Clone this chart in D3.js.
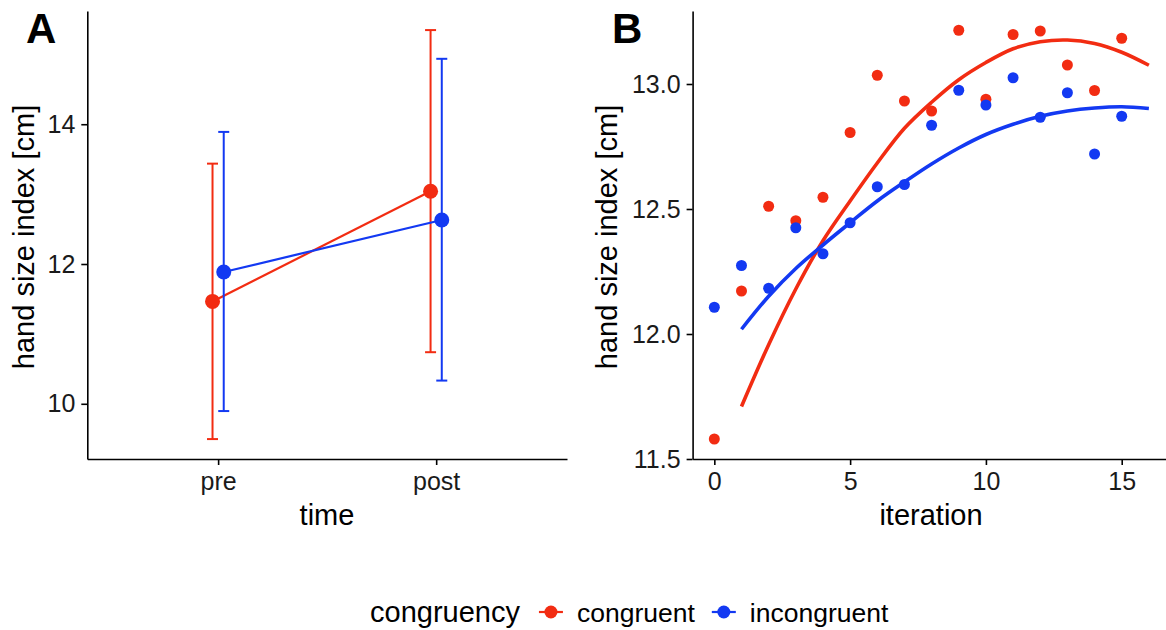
<!DOCTYPE html>
<html>
<head>
<meta charset="utf-8">
<script src="https://cdn.jsdelivr.net/npm/d3@7/dist/d3.min.js"></script>
<style>
  body { margin: 0; background: #fff; }
  svg text { font-family: "Liberation Sans", Arial, sans-serif; }
</style>
</head>
<body>
<div id="chart"></div>
<script>

// panel A: mean and error bar by time
var times = ["pre", "post"]
var groups = ["congruent", "incongruent"]
var meanCong = [11.465, 13.04]
var lowCong = [9.495, 10.738]
var highCong = [13.436, 15.347]
var meanIncong = [11.886, 12.629]
var lowIncong = [9.896, 10.332]
var highIncong = [13.89, 14.936]

// panel B: mean per iteration + fitted curve
var iterations = [0,1,2,3,4,5,6,7,8,9,10,11,12,13,14,15]
var pointsCong = [11.58,12.172,12.511,12.453,12.547,12.806,13.035,12.932,12.892,13.215,12.939,13.198,13.212,13.076,12.974,13.183]
var pointsIncong = [12.107,12.274,12.183,12.425,12.321,12.445,12.589,12.598,12.835,12.975,12.916,13.025,12.867,12.965,12.72,12.871]
var fitX = [1,2,3,4,5,6,7,8,9,10,11,12,13,14,15,16]
var fitCong = [11.71,11.957,12.18,12.373,12.532,12.684,12.823,12.927,13.017,13.086,13.141,13.169,13.176,13.162,13.127,13.075]
var fitIncong = [12.019,12.151,12.262,12.356,12.445,12.532,12.608,12.68,12.744,12.798,12.839,12.871,12.892,12.904,12.909,12.902]

var ticksA = [10, 12, 14]
var ticksBy = [11.5, 12.0, 12.5, 13.0]
var ticksBx = [0, 5, 10, 15]

var colors = ["#f22c12", "#1339f2"]

var svg = d3.select("#chart").append("svg")
  .attr("width", 1166)
  .attr("height", 630)

var axisColor = "#000"

function styleAxis(g){
  g.select(".domain").attr("stroke", axisColor).attr("stroke-width", 1.6)
  g.selectAll(".tick line").attr("stroke", axisColor).attr("stroke-width", 1.6)
  g.selectAll(".tick text").attr("fill", "#1a1a1a").style("font-size", "25px")
}

// ---------- panel A ----------
var xA = d3.scalePoint().domain(times).range([87.3, 567]).padding(0.6)
var yA = d3.scaleLinear().domain([9.21, 15.62]).range([459, 11])
var dodge = 0.0257 * xA.step()

var gA = svg.append("g")

gA.append("g")
  .attr("transform", "translate(0,459)")
  .call(d3.axisBottom(xA).tickSize(6).tickSizeOuter(0).tickPadding(7))
  .call(styleAxis)

gA.append("g")
  .attr("transform", "translate(87.3,0)")
  .call(d3.axisLeft(yA).tickValues(ticksA).tickFormat(d3.format("d")).tickSize(6).tickSizeOuter(0).tickPadding(6))
  .call(styleAxis)

var seriesA = [
  {mean: meanCong, low: lowCong, high: highCong, off: -dodge, color: colors[0]},
  {mean: meanIncong, low: lowIncong, high: highIncong, off: dodge, color: colors[1]}
]

seriesA.forEach(function(s){
  var g = gA.append("g")
  times.forEach(function(t, i){
    var cx = xA(t) + s.off
    g.append("line")
      .attr("x1", cx).attr("x2", cx)
      .attr("y1", yA(s.low[i])).attr("y2", yA(s.high[i]))
      .attr("stroke", s.color).attr("stroke-width", 2)
    ;[s.low[i], s.high[i]].forEach(function(v){
      g.append("line")
        .attr("x1", cx - 5.5).attr("x2", cx + 5.5)
        .attr("y1", yA(v)).attr("y2", yA(v))
        .attr("stroke", s.color).attr("stroke-width", 2)
    })
  })
  g.append("path")
    .datum(s.mean)
    .attr("fill", "none")
    .attr("stroke", s.color)
    .attr("stroke-width", 2.2)
    .attr("d", d3.line()
      .x(function(d, i){ return xA(times[i]) + s.off })
      .y(function(d){ return yA(d) }))
  g.selectAll("circle")
    .data(s.mean)
    .enter().append("circle")
    .attr("cx", function(d, i){ return xA(times[i]) + s.off })
    .attr("cy", function(d){ return yA(d) })
    .attr("r", 7.5)
    .attr("fill", s.color)
})

gA.append("text")
  .attr("x", 327).attr("y", 525)
  .attr("text-anchor", "middle")
  .style("font-size", "29px")
  .text("time")

gA.append("text")
  .attr("transform", "translate(34,237) rotate(-90)")
  .attr("text-anchor", "middle")
  .style("font-size", "29px")
  .text("hand size index [cm]")

gA.append("text")
  .attr("x", 26).attr("y", 43)
  .style("font-size", "42px").style("font-weight", "bold")
  .text("A")

// ---------- panel B ----------
var xB = d3.scaleLinear().domain([-0.8, 16.8]).range([692.6, 1170.6])
var yB = d3.scaleLinear().domain([11.5, 13.292]).range([459, 11])

var gB = svg.append("g")

gB.append("g")
  .attr("transform", "translate(0,459)")
  .call(d3.axisBottom(xB).tickValues(ticksBx).tickSize(6).tickSizeOuter(0).tickPadding(7))
  .call(styleAxis)

gB.append("g")
  .attr("transform", "translate(692.6,0)")
  .call(d3.axisLeft(yB).tickValues(ticksBy).tickFormat(d3.format(".1f")).tickSize(6).tickSizeOuter(0).tickPadding(6))
  .call(styleAxis)

var seriesB = [
  {pts: pointsCong, fit: fitCong, color: colors[0]},
  {pts: pointsIncong, fit: fitIncong, color: colors[1]}
]

seriesB.forEach(function(s){
  gB.append("g").selectAll("circle")
    .data(s.pts)
    .enter().append("circle")
    .attr("cx", function(d, i){ return xB(iterations[i]) })
    .attr("cy", function(d){ return yB(d) })
    .attr("r", 5.5)
    .attr("fill", s.color)
})

seriesB.forEach(function(s){
  gB.append("path")
    .datum(s.fit)
    .attr("fill", "none")
    .attr("stroke", s.color)
    .attr("stroke-width", 3.6)
    .attr("d", d3.line()
      .curve(d3.curveCatmullRom)
      .x(function(d, i){ return xB(fitX[i]) })
      .y(function(d){ return yB(d) }))
})

gB.append("text")
  .attr("x", 931).attr("y", 525)
  .attr("text-anchor", "middle")
  .style("font-size", "29px")
  .text("iteration")

gB.append("text")
  .attr("transform", "translate(617,237) rotate(-90)")
  .attr("text-anchor", "middle")
  .style("font-size", "29px")
  .text("hand size index [cm]")

gB.append("text")
  .attr("x", 612).attr("y", 43)
  .style("font-size", "42px").style("font-weight", "bold")
  .text("B")

// ---------- legend ----------
var leg = svg.append("g")
var legTitle = leg.append("text")
  .attr("x", 370).attr("y", 622)
  .style("font-size", "29px")
  .text("congruency")

var cursor = 370 + legTitle.node().getComputedTextLength() + 19
groups.forEach(function(name, i){
  leg.append("line")
    .attr("x1", cursor).attr("x2", cursor + 24)
    .attr("y1", 612).attr("y2", 612)
    .attr("stroke", colors[i]).attr("stroke-width", 2.2)
  leg.append("circle")
    .attr("cx", cursor + 12).attr("cy", 612).attr("r", 6.5)
    .attr("fill", colors[i])
  var t = leg.append("text")
    .attr("x", cursor + 24 + 14).attr("y", 622)
    .style("font-size", "26.5px")
    .text(name)
  cursor = cursor + 24 + 14 + t.node().getComputedTextLength() + 17
})

</script>
</body>
</html>
